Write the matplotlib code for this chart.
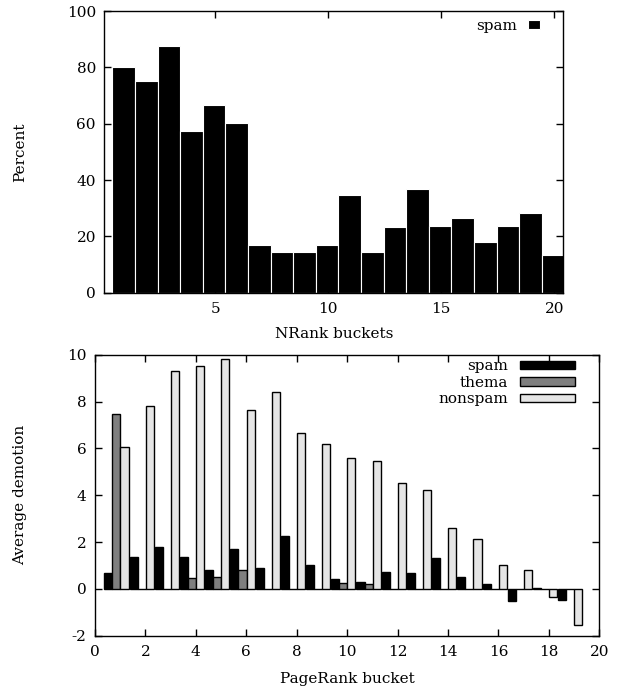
import numpy as np
import matplotlib
matplotlib.use('Agg')
import matplotlib.pyplot as plt

plt.rcParams['font.family'] = ['DejaVu Serif']
plt.rcParams['font.size'] = 11
plt.rcParams['axes.unicode_minus'] = False

# top chart: share of spam per NRank bucket
nrank_buckets = list(range(1, 21))
spam_percent = [80.1, 75.1, 87.6, 57.4, 66.7, 60.2, 16.9, 14.4, 14.4, 16.9,
                34.7, 14.4, 23.3, 36.9, 23.7, 26.5, 17.9, 23.7, 28.3, 13.4]

# bottom chart: average demotion per PageRank bucket
pr_buckets = list(range(19))
spam_demotion = [0.67, 1.35, 1.78, 1.35, 0.81, 1.71, 0.90, 2.25, 1.01, 0.43,
                 0.31, 0.73, 0.67, 1.32, 0.50, 0.21, -0.51, 0.02, -0.47]
thema_demotion = [7.46, 0.0, 0.0, 0.46, 0.50, 0.80, 0.0, 0.0, 0.0, 0.26,
                  0.20, 0.0, 0.0, 0.0, 0.0, 0.0, 0.0, 0.0, 0.0]
nonspam_demotion = [6.05, 7.79, 9.30, 9.52, 9.81, 7.62, 8.39, 6.64, 6.17, 5.60,
                    5.48, 4.50, 4.22, 2.62, 2.15, 1.00, 0.80, -0.33, -1.54]

W, H = 622, 686
fig = plt.figure(figsize=(W / 100, H / 100), dpi=100)


def style_axes(ax):
    for s in ax.spines.values():
        s.set_linewidth(1.0)
    ax.tick_params(direction='in', length=5, width=1, top=True, right=True,
                   labeltop=False, labelright=False)
    ax.tick_params(axis='x', pad=7)
    ax.tick_params(axis='y', pad=6)


# top panel
ax1 = fig.add_axes([104.3 / W, 1 - 292.7 / H, (563.3 - 104.3) / W, (292.7 - 11) / H])
x1 = np.array(nrank_buckets) - 0.05
ax1.bar(x1, spam_percent, width=1.0, color='black', edgecolor='white', linewidth=0.8,
        label='spam')
ax1.set_xlim(0.09, 20.4)
ax1.set_ylim(0, 100)
ax1.set_xticks([5, 10, 15, 20])
ax1.set_yticks([0, 20, 40, 60, 80, 100])
style_axes(ax1)
ax1.set_ylabel('Percent')
ax1.yaxis.set_label_coords(-0.168, 0.5)
ax1.set_xlabel('NRank buckets')
ax1.xaxis.set_label_coords(0.5, -0.122)
ax1.legend(loc='upper right', bbox_to_anchor=(0.962, 0.995), frameon=False,
           markerfirst=False, handlelength=0.8, handleheight=0.55,
           handletextpad=0.7, borderaxespad=0)

# bottom panel
ax2 = fig.add_axes([95 / W, 1 - 635.7 / H, (599.3 - 95) / W, (635.7 - 354.7) / H])
bw = 0.32
centers = np.array(pr_buckets) + 0.85
ax2.bar(centers - bw, spam_demotion, width=bw, color='black', edgecolor='black',
        linewidth=1, label='spam')
ax2.bar(centers, thema_demotion, width=bw, color='#7f7f7f', edgecolor='black',
        linewidth=1, label='thema')
ax2.bar(centers + bw, nonspam_demotion, width=bw, color='#e5e5e5', edgecolor='black',
        linewidth=1, label='nonspam')
ax2.set_xlim(0, 20)
ax2.set_ylim(-2, 10)
ax2.set_xticks(range(0, 21, 2))
ax2.set_yticks(range(-2, 11, 2))
style_axes(ax2)
ax2.set_ylabel('Average demotion')
ax2.yaxis.set_label_coords(-0.135, 0.5)
ax2.set_xlabel('PageRank bucket')
ax2.xaxis.set_label_coords(0.5, -0.13)
ax2.legend(loc='upper right', bbox_to_anchor=(0.964, 1.005), frameon=False,
           markerfirst=False, handlelength=3.6, handleheight=0.5,
           handletextpad=0.8, labelspacing=0.16, borderaxespad=0)

fig.savefig('out.png', dpi=100)
